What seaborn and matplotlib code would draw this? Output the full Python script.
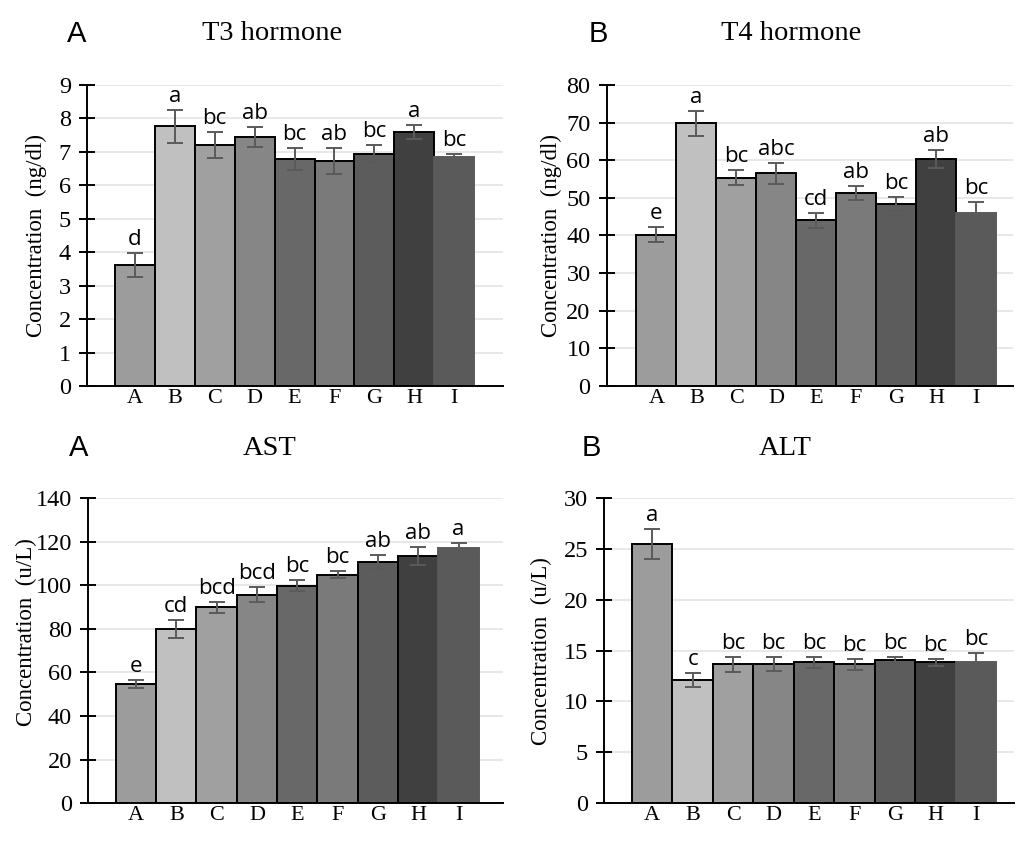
import numpy as np
import pandas as pd
import seaborn as sns
import matplotlib.pyplot as plt

sns.set_style('white')
plt.rcParams['text.color'] = 'black'
plt.rcParams['axes.labelcolor'] = 'black'
plt.rcParams['xtick.color'] = 'black'
plt.rcParams['ytick.color'] = 'black'

# 데이터
groups = ['A', 'B', 'C', 'D', 'E', 'F', 'G', 'H', 'I']

t3_mean = [3.62, 7.76, 7.21, 7.44, 6.78, 6.73, 6.94, 7.59, 6.85]
t3_err = [0.36, 0.50, 0.38, 0.31, 0.33, 0.38, 0.27, 0.22, 0.10]
t3_sig = ['d', 'a', 'bc', 'ab', 'bc', 'ab', 'bc', 'a', 'bc']

t4_mean = [40.2, 69.8, 55.4, 56.5, 44.1, 51.2, 48.3, 60.2, 46.1]
t4_err = [2.0, 3.4, 2.0, 2.8, 2.0, 1.9, 1.9, 2.4, 2.8]
t4_sig = ['e', 'a', 'bc', 'abc', 'cd', 'ab', 'bc', 'ab', 'bc']

ast_mean = [54.6, 79.8, 89.8, 95.7, 99.8, 104.9, 110.7, 113.5, 116.9]
ast_err = [1.8, 4.2, 2.6, 3.4, 2.5, 1.6, 3.4, 4.0, 2.3]
ast_sig = ['e', 'cd', 'bcd', 'bcd', 'bc', 'bc', 'ab', 'ab', 'a']

alt_mean = [25.5, 12.1, 13.65, 13.65, 13.85, 13.65, 14.05, 13.85, 13.9]
alt_err = [1.5, 0.72, 0.72, 0.68, 0.52, 0.56, 0.36, 0.36, 0.86]
alt_sig = ['a', 'c', 'bc', 'bc', 'bc', 'bc', 'bc', 'bc', 'bc']

bar_colors = ['#9c9c9c', '#c0c0c0', '#a0a0a0', '#868686', '#686868',
              '#7a7a7a', '#5c5c5c', '#404040', '#5a5a5a']

panels = [
    # (letter, title, mean, err, sig, ylim, step, ylabel, rect, xlim, label_xy, letter_x, title_x, top_y)
    ('A', 'T3 hormone', t3_mean, t3_err, t3_sig, 9, 1, 'Concentration  (ng/dl)',
     [0.0856, 0.541, 0.4094, 0.358], (-1.2, 9.22), (-0.095, 0.5), 0.075, 0.268, 0.96),
    ('B', 'T4 hormone', t4_mean, t4_err, t4_sig, 80, 10, 'Concentration  (ng/dl)',
     [0.597, 0.541, 0.4, 0.358], (-1.25, 8.93), (-0.11, 0.5), 0.589, 0.779, 0.96),
    ('A', 'AST', ast_mean, ast_err, ast_sig, 140, 20, 'Concentration  (u/L)',
     [0.0866, 0.045, 0.4085, 0.3627], (-1.19, 9.1), (-0.122, 0.56), 0.077, 0.265, 0.467),
    ('B', 'ALT', alt_mean, alt_err, alt_sig, 30, 5, 'Concentration  (u/L)',
     [0.5945, 0.045, 0.404, 0.3627], (-1.19, 8.95), (-0.126, 0.5), 0.582, 0.773, 0.467),
]

fig = plt.figure(figsize=(10.16, 8.41), dpi=100)

for letter, title, mean, err, sig, ytop, step, ylabel, rect, xlim, lab_xy, lx, tx, ty in panels:
    ax = fig.add_axes(rect)
    df = pd.DataFrame({'group': groups, 'value': mean})
    sns.barplot(data=df, x='group', y='value', hue='group', palette=bar_colors,
                width=1.0, edgecolor='black', linewidth=1.4, legend=False,
                ax=ax, zorder=2)
    # 마지막 막대는 테두리 없음
    ax.patches[-1].set_edgecolor(bar_colors[-1])

    ax.errorbar(range(len(groups)), mean, yerr=err, fmt='none', ecolor='#5a5a5a',
                elinewidth=1.4, capsize=5.5, capthick=1.4, zorder=3)

    for i, (m, e, s) in enumerate(zip(mean, err, sig)):
        ax.text(i, m + e + ytop * 0.01, s, ha='center', va='bottom',
                fontsize=16, family='Open Sans', color='black')

    ax.set_ylim(0, ytop)
    ax.set_xlim(*xlim)
    ax.set_yticks(np.arange(0, ytop + step / 2, step))
    ax.yaxis.grid(True, color='#e6e6e6', linewidth=1.3, zorder=0)
    ax.set_axisbelow(True)
    ax.set_xlabel('')
    ax.set_ylabel(ylabel, family='Liberation Serif', fontsize=16.5)
    ax.yaxis.set_label_coords(*lab_xy)

    for sp in ['top', 'right']:
        ax.spines[sp].set_visible(False)
    for sp in ['left', 'bottom']:
        ax.spines[sp].set_color('black')
        ax.spines[sp].set_linewidth(1.4)

    ax.tick_params(axis='y', direction='inout', length=11, width=1.4,
                   labelsize=17.5, pad=6, left=True)
    ax.tick_params(axis='x', length=0, labelsize=16, pad=2)
    for lab in ax.get_xticklabels() + ax.get_yticklabels():
        lab.set_family('Liberation Serif')

    fig.text(lx, ty, letter, fontsize=21, family='Liberation Sans', va='center', ha='center')
    fig.text(tx, ty, title, fontsize=20.5, family='Liberation Serif', va='center', ha='center')

plt.savefig('out.png', dpi=100)
